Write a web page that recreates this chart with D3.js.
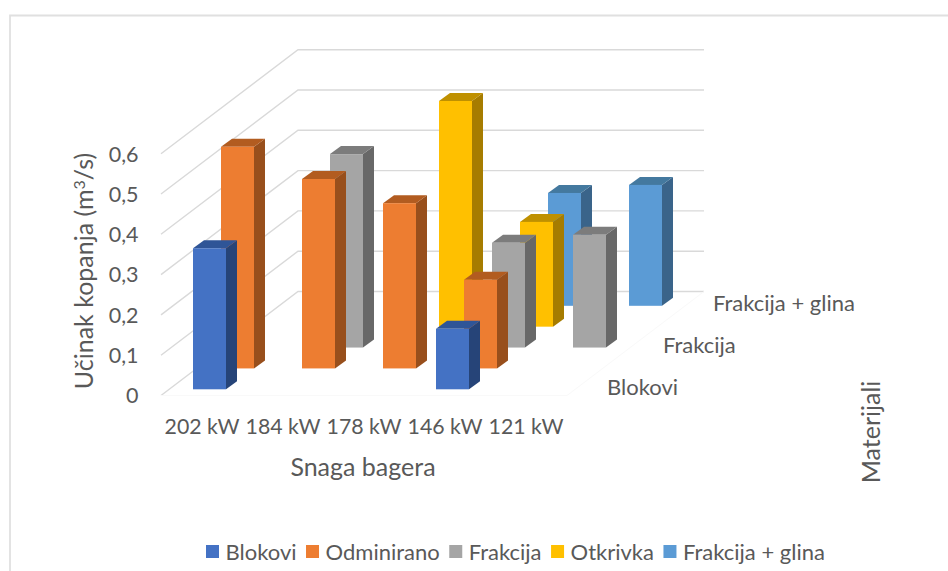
<!DOCTYPE html>
<html>
<head>
<meta charset="utf-8">
<title>Učinak kopanja</title>
<script src="https://cdn.jsdelivr.net/npm/d3@7"></script>
<style>
  html, body { margin: 0; padding: 0; background: #fff; }
  svg { display: block; }
  text { font-family: Lato, "Open Sans", sans-serif; fill: #595959; }
</style>
</head>
<body>
<div id="chart"></div>
<script>
const categories = ['202 kW', '184 kW', '178 kW', '146 kW', '121 kW']
const seriesNames = ['Blokovi', 'Odminirano', 'Frakcija', 'Otkrivka', 'Frakcija + glina']
const yTicks = [0, 0.1, 0.2, 0.3, 0.4, 0.5, 0.6]

const blokovi = [0.35, null, null, 0.15, null]
const odminirano = [0.55, 0.47, 0.41, 0.22, null]
const frakcija = [null, 0.48, null, 0.26, 0.28]
const otkrivka = [null, null, 0.56, 0.26, null]
const frakcijaGlina = [null, null, null, 0.28, 0.30]

const seriesValues = [blokovi, odminirano, frakcija, otkrivka, frakcijaGlina]

const colors = [
  { front: '#4472c4', top: '#2f5597', side: '#264478' },
  { front: '#ed7d31', top: '#b25c20', side: '#984f1c' },
  { front: '#a5a5a5', top: '#7c7c7c', side: '#686868' },
  { front: '#ffc000', top: '#bf9000', side: '#a67c00' },
  { front: '#5b9bd5', top: '#44799f', side: '#3a648a' }
]

// the back wall and floor, in page pixels
const wall = { frontX: 161, backX: 298, rightX: 704, frontY: 395.5, backY: 291.5 }
const barDepth = { x: 11, y: 8 }
const rowLabelX = [607, null, 663, null, 713]

const svg = d3.select('#chart').append('svg')
  .attr('width', 948)
  .attr('height', 571)

// chart frame, only top and left show up
svg.append('path')
  .attr('d', 'M10,571V15.5H948')
  .attr('fill', 'none')
  .attr('stroke', '#e0e0e0')
  .attr('stroke-width', 1.8)

const x = d3.scaleBand()
  .domain(categories)
  .range([193, 550])
  .paddingInner(48 / 81)
  .paddingOuter(0)

const y = d3.scaleLinear().domain([0, 0.6]).range([0, 241.8])

const depthX = d3.scalePoint().domain(seriesNames).range([0, 112])
const depthY = d3.scalePoint().domain(seriesNames).range([0, 83.5])

// GRID
const grid = svg.append('g').attr('class', 'grid')

grid.selectAll('path.wall')
  .data(yTicks)
  .enter()
  .append('path')
  .attr('class', 'wall')
  .attr('fill', 'none')
  .attr('stroke', '#d9d9d9')
  .attr('stroke-width', 1.4)
  .attr('d', (d) => d3.line()([
    [wall.frontX, wall.frontY - y(d)],
    [wall.backX, wall.backY - y(d)],
    [wall.rightX, wall.backY - y(d)]
  ]))

// floor edges are barely visible
grid.append('path')
  .attr('fill', 'none')
  .attr('stroke', '#f9f9f9')
  .attr('stroke-width', 1)
  .attr('d', d3.line()([
    [wall.frontX, wall.frontY],
    [wall.frontX + 406, wall.frontY],
    [wall.rightX, wall.backY]
  ]))

// BARS, back row first so the front rows cover them
const baseY = (name) => wall.frontY - 6.2 - depthY(name)

const rows = svg.selectAll('g.row')
  .data(seriesNames.map((name, i) => ({ name, i, values: seriesValues[i] })).reverse())
  .enter()
  .append('g')
  .attr('class', 'row')

const bars = rows.selectAll('g.bar')
  .data((row) => row.values
    .map((value, c) => ({ value, category: categories[c], name: row.name, color: colors[row.i] }))
    .filter((d) => d.value !== null))
  .enter()
  .append('g')
  .attr('class', 'bar')

const left = (d) => x(d.category) + depthX(d.name)
const bottom = (d) => baseY(d.name)
const topEdge = (d) => baseY(d.name) - y(d.value)

bars.append('path')
  .attr('fill', (d) => d.color.side)
  .attr('d', (d) => {
    const r = left(d) + x.bandwidth()
    return d3.line()([
      [r, topEdge(d)],
      [r + barDepth.x, topEdge(d) - barDepth.y],
      [r + barDepth.x, bottom(d) - barDepth.y],
      [r, bottom(d)]
    ]) + 'Z'
  })

bars.append('path')
  .attr('fill', (d) => d.color.top)
  .attr('d', (d) => {
    const l = left(d)
    const r = l + x.bandwidth()
    return d3.line()([
      [l, topEdge(d)],
      [l + barDepth.x, topEdge(d) - barDepth.y],
      [r + barDepth.x, topEdge(d) - barDepth.y],
      [r, topEdge(d)]
    ]) + 'Z'
  })

bars.append('rect')
  .attr('x', left)
  .attr('y', topEdge)
  .attr('width', x.bandwidth())
  .attr('height', (d) => y(d.value))
  .attr('fill', (d) => d.color.front)

// AXES
const yAxisScale = d3.scaleLinear().domain([0, 0.6]).range([wall.frontY, wall.frontY - 241.8])

const yAxisG = svg.append('g')
  .attr('transform', 'translate(138.5, 0.5)')
  .call(d3.axisLeft(yAxisScale)
    .tickValues(yTicks)
    .tickSize(0)
    .tickPadding(0)
    .tickFormat((d) => d === 0 ? '0' : String(d3.format('.1f')(d)).replace('.', ',')))

yAxisG.select('.domain').remove()
yAxisG.selectAll('text').style('font-size', '21.5px').attr('fill', '#595959')

const xAxisG = svg.append('g')
  .attr('transform', 'translate(-7.5, 419)')
  .call(d3.axisBottom(x).tickSize(0).tickPadding(0))

xAxisG.select('.domain').remove()
xAxisG.selectAll('text').style('font-size', '21.3px').attr('fill', '#595959')

// depth labels, Excel skips every other one
svg.selectAll('text.rowLabel')
  .data(seriesNames.filter((d, i) => rowLabelX[i] !== null))
  .enter()
  .append('text')
  .attr('class', 'rowLabel')
  .attr('x', (d) => rowLabelX[seriesNames.indexOf(d)])
  .attr('y', (d) => 394.5 - depthY(d))
  .style('font-size', '22px')
  .text((d) => d)

// TITLES
svg.append('text')
  .attr('x', 363)
  .attr('y', 476)
  .attr('text-anchor', 'middle')
  .style('font-size', '25px')
  .text('Snaga bagera')

svg.append('text')
  .attr('transform', 'translate(880, 432) rotate(-90)')
  .attr('text-anchor', 'middle')
  .style('font-size', '25px')
  .text('Materijali')

const yTitle = svg.append('text')
  .attr('transform', 'translate(93, 271) rotate(-90)')
  .attr('text-anchor', 'middle')
  .style('font-size', '25px')

yTitle.append('tspan').text('Učinak kopanja (m')
yTitle.append('tspan').attr('dy', -8).style('font-size', '16px').text('3')
yTitle.append('tspan').attr('dy', 8).text('/s)')

// LEGEND, items placed one after the other by measured text width
const legend = svg.append('g').attr('class', 'legend')
let legendX = 206

seriesNames.forEach((name, i) => {
  legend.append('rect')
    .attr('x', legendX)
    .attr('y', 545)
    .attr('width', 13)
    .attr('height', 13)
    .attr('fill', colors[i].front)

  const label = legend.append('text')
    .attr('x', legendX + 19.5)
    .attr('y', 559.5)
    .style('font-size', '22px')
    .text(name)

  legendX += 19.5 + label.node().getComputedTextLength() + 9.5
})
</script>
</body>
</html>
